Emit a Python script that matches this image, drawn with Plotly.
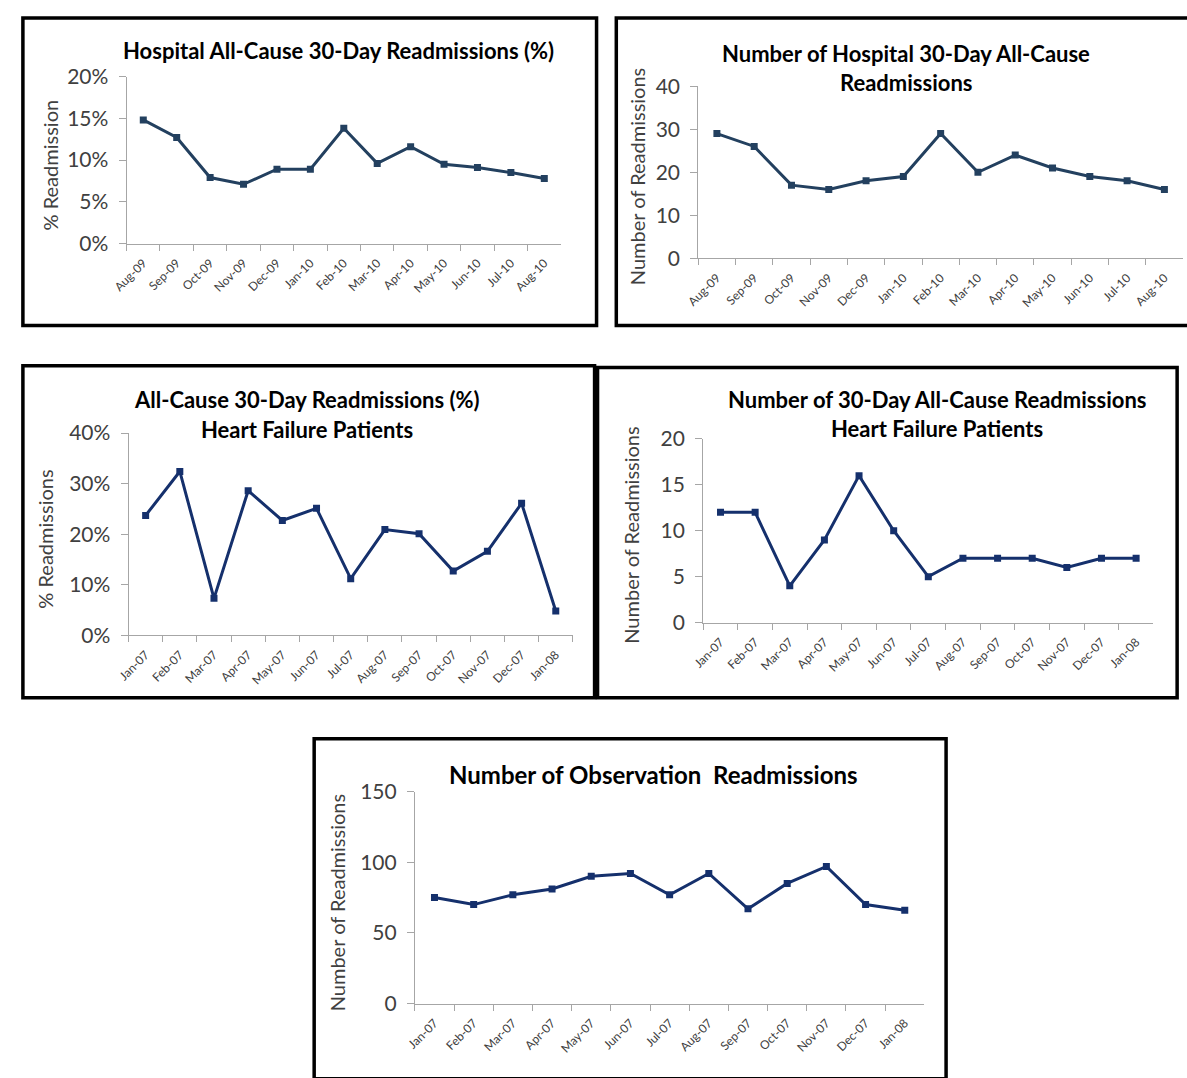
import plotly.graph_objects as go

W, H = 1187, 1078

# Month labels
months_09_10 = ["Aug-09", "Sep-09", "Oct-09", "Nov-09", "Dec-09", "Jan-10", "Feb-10",
                "Mar-10", "Apr-10", "May-10", "Jun-10", "Jul-10", "Aug-10"]
months_07_08 = ["Jan-07", "Feb-07", "Mar-07", "Apr-07", "May-07", "Jun-07", "Jul-07",
                "Aug-07", "Sep-07", "Oct-07", "Nov-07", "Dec-07", "Jan-08"]

# Series values
hospital_pct = [14.8, 12.7, 7.9, 7.1, 8.9, 8.9, 13.8, 9.6, 11.6, 9.5, 9.1, 8.5, 7.8]
hospital_count = [29, 26, 17, 16, 18, 19, 29, 20, 24, 21, 19, 18, 16]
hf_pct = [23.7, 32.4, 7.3, 28.6, 22.7, 25.1, 11.2, 20.9, 20.1, 12.7, 16.6, 26.1, 4.8]
hf_count = [12, 12, 4, 9, 16, 10, 5, 7, 7, 7, 6, 7, 7]
obs_count = [75, 70, 77, 81, 90, 92, 77, 92, 67, 85, 97, 70, 66]

FONT = "Lato"
AXIS_GRAY = "#A6A6A6"
TEXT_GRAY = "#404040"

fig = go.Figure()


def px_x(x):
    return x / W


def px_y(y):
    return 1 - y / H


panels = [
    dict(cats=months_09_10, vals=hospital_pct, color="#23405F",
         x0=113, x1=553, ytop=64, ybot=235, yrange=[0, 20], dtick=5, suffix="%",
         title=["Hospital All-Cause 30-Day Readmissions (%)"], title_x=328, title_y=[37],
         title_size=22, ytitle="% Readmission", ytitle_x=35, box=(8, 4, 589, 319)),
    dict(cats=months_09_10, vals=hospital_count, color="#23405F",
         x0=692, x1=1183, ytop=74, ybot=250, yrange=[0, 40], dtick=10, suffix="",
         title=["Number of Hospital 30-Day All-Cause", "Readmissions"], title_x=902,
         title_y=[40, 70], title_size=22, ytitle="Number of Readmissions", ytitle_x=630,
         box=(609, 4, 1195, 319)),
    dict(cats=months_07_08, vals=hf_pct, color="#15306C",
         x0=115, x1=565, ytop=429, ybot=636, yrange=[0, 40], dtick=10, suffix="%",
         title=["All-Cause 30-Day Readmissions (%)", "Heart Failure Patients"], title_x=296,
         title_y=[395, 425], title_size=22, ytitle="% Readmissions", ytitle_x=30,
         box=(8, 360, 587, 700)),
    dict(cats=months_07_08, vals=hf_count, color="#15306C",
         x0=697, x1=1153, ytop=435, ybot=623, yrange=[0, 20], dtick=5, suffix="",
         title=["Number of 30-Day All-Cause Readmissions", "Heart Failure Patients"],
         title_x=934, title_y=[395, 424], title_size=22, ytitle="Number of Readmissions",
         ytitle_x=624, box=(590, 362, 1177, 700)),
    dict(cats=months_07_08, vals=obs_count, color="#15306C",
         x0=405, x1=921, ytop=796, ybot=1013, yrange=[0, 150], dtick=50, suffix="",
         title=["Number of Observation\u00a0 Readmissions"], title_x=647, title_y=[779],
         title_size=24, ytitle="Number of Readmissions", ytitle_x=327,
         box=(303, 742, 943, 1090)),
]

layout_axes = {}
shapes = []
annotations = []

for i, p in enumerate(panels, start=1):
    xa = "x" if i == 1 else f"x{i}"
    ya = "y" if i == 1 else f"y{i}"
    fig.add_trace(go.Scatter(
        x=p["cats"], y=p["vals"], xaxis=xa, yaxis=ya,
        mode="lines+markers",
        line=dict(color=p["color"], width=3),
        marker=dict(symbol="square", size=7, color=p["color"]),
        showlegend=False, hoverinfo="x+y",
    ))
    key_x = "xaxis" if i == 1 else f"xaxis{i}"
    key_y = "yaxis" if i == 1 else f"yaxis{i}"
    layout_axes[key_x] = dict(
        domain=[px_x(p["x0"]), px_x(p["x1"])], anchor=ya,
        type="category", range=[-0.5, 12.5],
        tickson="boundaries", ticks="outside", ticklen=6, tickcolor=AXIS_GRAY,
        showline=True, linecolor=AXIS_GRAY, linewidth=1,
        showgrid=False, zeroline=False, tickangle=-45, ticklabelstandoff=7,
        tickfont=dict(family=FONT, size=12, color=TEXT_GRAY),
        fixedrange=True,
    )
    layout_axes[key_y] = dict(
        domain=[px_y(p["ybot"]), px_y(p["ytop"])], anchor=xa,
        range=p["yrange"], dtick=p["dtick"], ticksuffix=p["suffix"],
        ticks="outside", ticklen=7, tickcolor=AXIS_GRAY, ticklabelstandoff=6,
        showline=True, linecolor=AXIS_GRAY, linewidth=1,
        showgrid=False, zeroline=False,
        tickfont=dict(family=FONT, size=21, color=TEXT_GRAY),
        fixedrange=True,
    )
    for line_text, ty in zip(p["title"], p["title_y"]):
        annotations.append(dict(
            text=f"<b>{line_text}</b>", x=px_x(p["title_x"]), y=px_y(ty),
            xref="paper", yref="paper", xanchor="center", yanchor="middle",
            showarrow=False, font=dict(family=FONT, size=p["title_size"], color="#000000"),
        ))
    annotations.append(dict(
        text=p["ytitle"], x=px_x(p["ytitle_x"]),
        y=px_y((p["ytop"] + p["ybot"]) / 2 + 5),
        xref="paper", yref="paper", xanchor="center", yanchor="middle",
        textangle=-90, showarrow=False,
        font=dict(family=FONT, size=20, color=TEXT_GRAY),
    ))
    bx0, by0, bx1, by1 = p["box"]
    shapes.append(dict(
        type="rect", xref="paper", yref="paper",
        x0=px_x(bx0), x1=px_x(bx1), y0=px_y(by1), y1=px_y(by0),
        line=dict(color="#000000", width=3.5), fillcolor="rgba(0,0,0,0)", layer="above",
    ))

fig.update_layout(
    width=W, height=H, autosize=False,
    margin=dict(l=0, r=0, t=0, b=0),
    paper_bgcolor="#FFFFFF", plot_bgcolor="#FFFFFF",
    shapes=shapes, annotations=annotations,
    **layout_axes,
)

fig.write_html("out.html", config={"displayModeBar": False})
